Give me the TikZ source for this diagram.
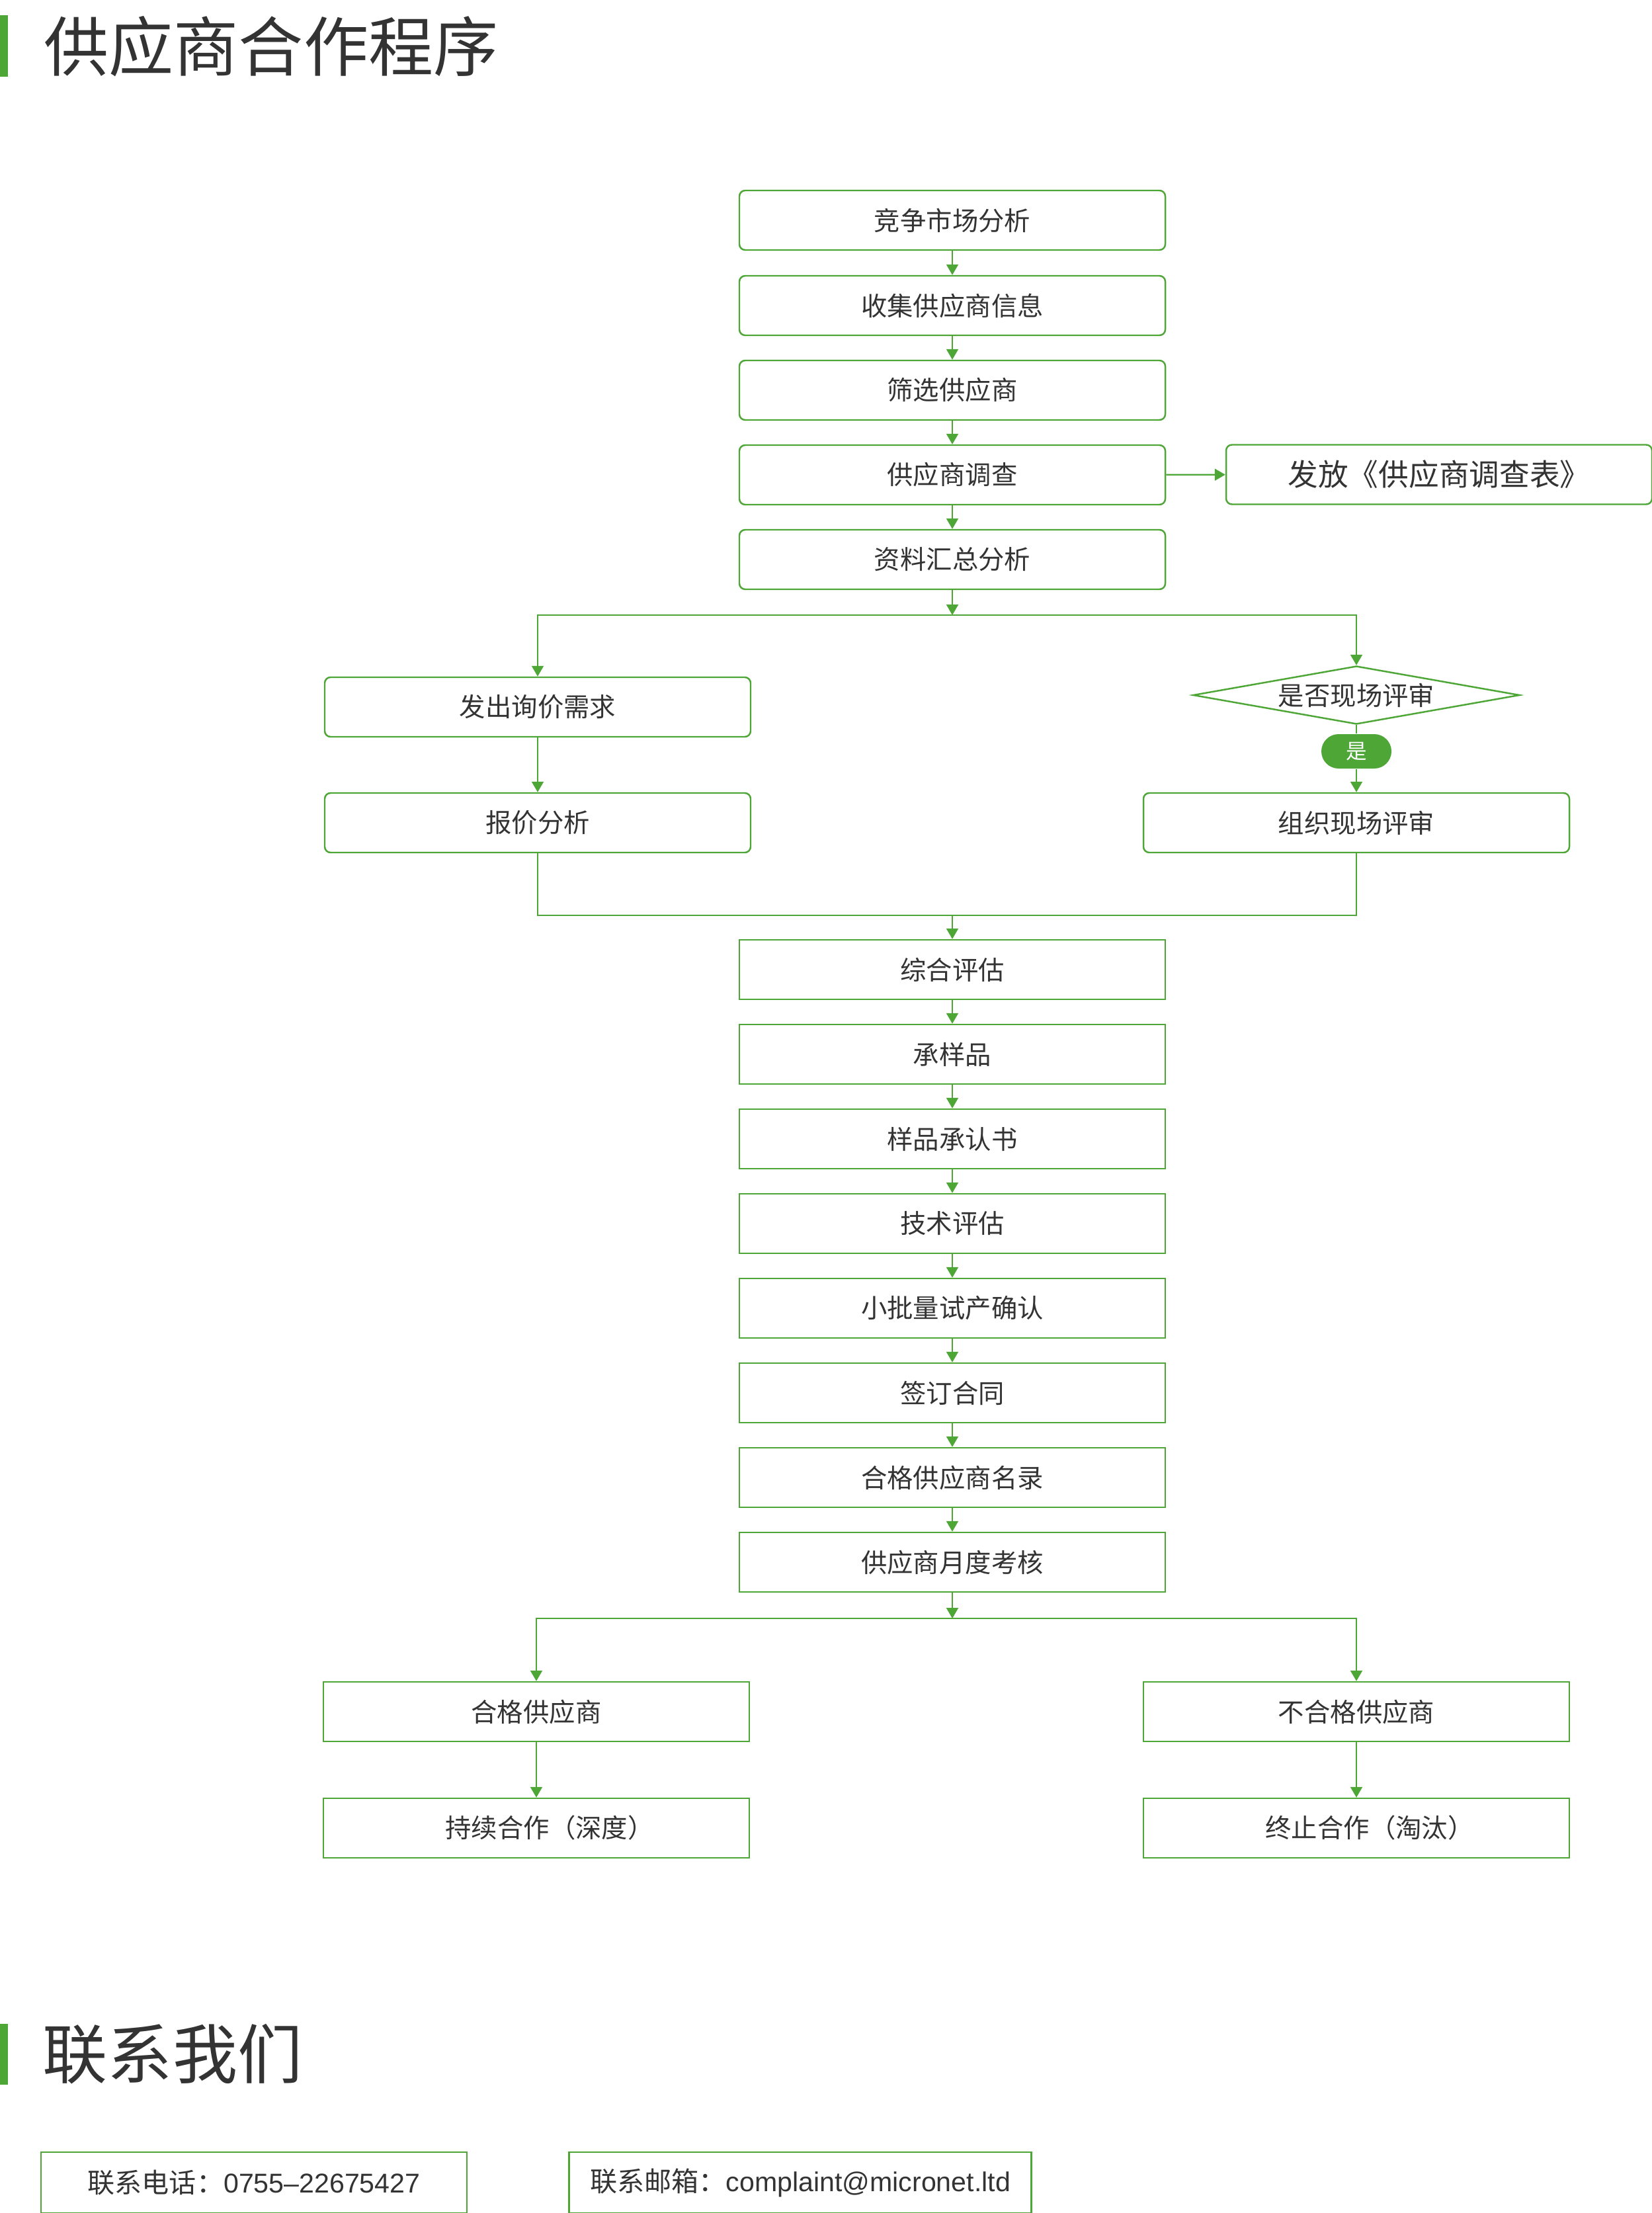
\documentclass[tikz,border=0pt]{standalone}
\usepackage{fontspec}
\usetikzlibrary{arrows.meta,shapes.geometric}
\newfontfamily\cjk{Noto Sans CJK SC}
\newfontfamily\latin{Liberation Sans}
\definecolor{leaf}{HTML}{4DA636}
\definecolor{ink}{HTML}{333333}

\begin{document}
\begin{tikzpicture}
\cjk
  \tikzstyle{stepBox}=[rounded corners=2.5pt,draw=leaf,line width=0.7pt,minimum width=6.44cm,minimum height=0.9cm,inner sep=0pt,text=ink,font=\fontsize{11.2}{13}\selectfont,text centered]
  \tikzstyle{flatBox}=[stepBox,sharp corners]
  \tikzstyle{askBox}=[diamond,draw=leaf,line width=0.7pt,shape aspect=5.6,minimum width=4.94cm,minimum height=0.88cm,inner sep=0pt,text=ink,font=\fontsize{11.2}{13}\selectfont]
  \tikzstyle{yesTag}=[rounded corners=0.26cm,fill=leaf,minimum width=1.06cm,minimum height=0.52cm,inner sep=0pt,text=white,font=\fontsize{9}{10}\selectfont]
  \tikzstyle{heading}=[text=ink,inner sep=0pt,font=\fontsize{27.9}{32}\selectfont]
  \tikzstyle{contact}=[flatBox,font=\fontsize{11.7}{14}\selectfont]
  \tikzstyle{arr}=[-{Triangle[length=0.16cm,width=0.18cm]},draw=leaf,line width=0.6pt]
  \tikzstyle{link}=[draw=leaf,line width=0.6pt]

  \useasboundingbox (0,0) rectangle (24.98,-33.46);

  \begin{scope}
   % title
   \fill[leaf] (0,-0.23) rectangle (0.12,-1.16);
   \node[heading](title) at (4.10,-0.70) {供应商合作程序};

   \node[stepBox](market) at (14.40,-3.33) {竞争市场分析};
   \node[stepBox](collect) at (14.40,-4.62) {收集供应商信息};
   \draw[arr] (market) -- (collect);
   \node[stepBox](filter) at (14.40,-5.90) {筛选供应商};
   \draw[arr] (collect) -- (filter);
   \node[stepBox](survey) at (14.40,-7.18) {供应商调查};
   \draw[arr] (filter) -- (survey);
   \node[stepBox,font=\fontsize{13}{15}\selectfont](form) at (21.76,-7.175) {发放《供应商调查表》};
   \draw[arr] (survey) -- (form);
   \node[stepBox](summary) at (14.40,-8.46) {资料汇总分析};
   \draw[arr] (survey) -- (summary);

   \coordinate (split1) at (14.40,-9.30);
   \draw[arr] (summary) -- (split1);
   \node[stepBox](inquiry) at (8.13,-10.69) {发出询价需求};
   \draw[arr] (split1) -| (inquiry);
   \node[askBox](askvisit) at (20.51,-10.51) {是否现场评审};
   \draw[arr] (split1) -| (askvisit);
   \node[yesTag](yes) at (20.51,-11.36) {是};
   \draw[link] (askvisit) -- (yes);
   \node[stepBox](visit) at (20.51,-12.44) {组织现场评审};
   \draw[arr] (yes) -- (visit);
   \node[stepBox](quote) at (8.13,-12.44) {报价分析};
   \draw[arr] (inquiry) -- (quote);

   \coordinate (merge1) at (14.40,-13.84);
   \draw[link] (quote) |- (merge1);
   \draw[link] (visit) |- (merge1);
   \node[flatBox](overall) at (14.40,-14.66) {综合评估};
   \draw[arr] (merge1) -- (overall);
   \node[flatBox](sample) at (14.40,-15.94) {承样品};
   \draw[arr] (overall) -- (sample);
   \node[flatBox](approval) at (14.40,-17.22) {样品承认书};
   \draw[arr] (sample) -- (approval);
   \node[flatBox](tech) at (14.40,-18.50) {技术评估};
   \draw[arr] (approval) -- (tech);
   \node[flatBox](trial) at (14.40,-19.78) {小批量试产确认};
   \draw[arr] (tech) -- (trial);
   \node[flatBox](contract) at (14.40,-21.06) {签订合同};
   \draw[arr] (trial) -- (contract);
   \node[flatBox](roster) at (14.40,-22.34) {合格供应商名录};
   \draw[arr] (contract) -- (roster);
   \node[flatBox](monthly) at (14.40,-23.62) {供应商月度考核};
   \draw[arr] (roster) -- (monthly);

   \coordinate (split2) at (14.40,-24.47);
   \draw[arr] (monthly) -- (split2);
   \node[flatBox](qualified) at (8.11,-25.88) {合格供应商};
   \draw[arr] (split2) -| (qualified);
   \node[flatBox](unqualified) at (20.51,-25.88) {不合格供应商};
   \draw[arr] (split2) -| (unqualified);
   \node[flatBox](keepon) at (8.11,-27.64) {\hspace{0.4cm}持续合作（深度）};
   \draw[arr] (qualified) -- (keepon);
   \node[flatBox](stop) at (20.51,-27.64) {\hspace{0.4cm}终止合作（淘汰）};
   \draw[arr] (unqualified) -- (stop);

   % contact
   \fill[leaf] (0,-30.60) rectangle (0.12,-31.52);
   \node[heading](contactus) at (2.61,-31.06) {联系我们};
   \node[contact,minimum height=0.92cm](phone) at (3.84,-33.00) {联系电话：{\latin 0755–22675427}};
   \node[contact,minimum width=6.99cm,minimum height=0.92cm](mail) at (12.10,-33.00) {联系邮箱：{\latin complaint@micronet.ltd}};
  \end{scope}

\end{tikzpicture}
\end{document}
